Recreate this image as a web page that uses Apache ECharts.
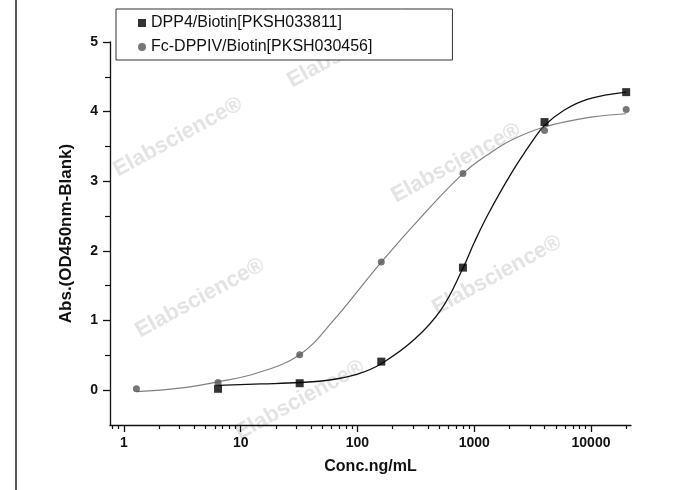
<!DOCTYPE html>
<html>
<head>
<meta charset="utf-8">
<script src="https://cdn.jsdelivr.net/npm/echarts@6/dist/echarts.min.js"></script>
<style>
html,body{margin:0;padding:0;background:#fff;}
#chart{width:688px;height:490px;}
</style>
</head>
<body>
<div id="chart"></div>
<script>
// ---- data ----
const seriesNames = ['DPP4/Biotin[PKSH033811]', 'Fc-DPPIV/Biotin[PKSH030456]'];
// measured points
const dpp4Conc = [6.4, 32, 160, 800, 4000, 20000];
const dpp4Abs  = [0.02, 0.10, 0.41, 1.76, 3.85, 4.28];
const fcConc   = [1.28, 6.4, 32, 160, 800, 4000, 20000];
const fcAbs    = [0.02, 0.11, 0.51, 1.84, 3.11, 3.73, 4.03];
// fitted curves
const dpp4CurveConc = [6.4, 15, 32, 60, 100, 160, 308, 522, 800, 1000, 1318, 2070, 3190, 4000, 5870, 9420, 20000];
const dpp4CurveAbs  = [0.07, 0.09, 0.11, 0.15, 0.23, 0.38, 0.73, 1.16, 1.75, 2.12, 2.53, 3.11, 3.59, 3.80, 4.02, 4.18, 4.28];
const fcCurveConc = [1.28, 3, 6.4, 14, 32, 60, 160, 352, 800, 1300, 2070, 4000, 10000, 20000];
const fcCurveAbs  = [-0.02, 0.03, 0.12, 0.25, 0.51, 0.97, 1.84, 2.49, 3.11, 3.38, 3.59, 3.78, 3.92, 3.97];
// axes
const xLabelValues = [1, 10, 100, 1000, 10000];
const xMinorTickValues = [0.8, 0.9, 2, 3, 4, 5, 6, 7, 8, 9, 20, 30, 40, 50, 60, 70, 80, 90,
  200, 300, 400, 500, 600, 700, 800, 900, 2000, 3000, 4000, 5000, 6000, 7000, 8000, 9000, 20000];
const yLabelValues = [0, 1, 2, 3, 4, 5];
const yHalfTickValues = [0.5, 1.5, 2.5, 3.5, 4.5];
const watermarkText = 'Elabscience';

const chart = echarts.init(document.getElementById('chart'), null, {renderer: 'canvas'});
const FONT = 'Liberation Sans, Arial, sans-serif';
const pair = (xs, ys) => xs.map((x, i) => [x, ys[i]]);

const wmPos = [[178, 137], [352, 48], [456, 163], [200, 298], [497, 275], [300, 400]];
const graphics = wmPos.map(p => ({
  type: 'text', x: p[0], y: p[1], rotation: 0.5, silent: true, z: 0,
  style: {text: watermarkText + '\u00AE', fill: '#e3e3e3', font: 'bold 22px ' + FONT,
    textAlign: 'center', textVerticalAlign: 'middle'}
}));
graphics.push({type: 'line', shape: {x1: 16, y1: 0, x2: 16, y2: 490},
  style: {stroke: '#222', lineWidth: 1.5}, silent: true});

const axisCommonX = {
  type: 'log', logBase: 10, min: 0.76, max: 22000, gridIndex: 0,
  splitLine: {show: false}, minorTick: {show: false}
};
const axisCommonY = {
  type: 'value', min: -0.5, max: 5, gridIndex: 0,
  splitLine: {show: false}, minorTick: {show: false}
};

chart.setOption({
  animation: false,
  backgroundColor: '#fff',
  graphic: graphics,
  grid: {left: 110, right: 57, top: 42, bottom: 65, containLabel: false},
  legend: {
    orient: 'vertical', left: 116, top: 9,
    padding: [6, 80, 5, 22], itemGap: 8,
    itemWidth: 8, itemHeight: 8,
    borderColor: '#333', borderWidth: 1, backgroundColor: '#fff',
    textStyle: {fontFamily: FONT, fontSize: 16, color: '#111'},
    data: [
      {name: seriesNames[0], icon: 'rect'},
      {name: seriesNames[1], icon: 'circle'}
    ]
  },
  xAxis: [
    Object.assign({}, axisCommonX, {
      position: 'bottom',
      name: 'Conc.ng/mL', nameLocation: 'middle', nameGap: 34,
      nameTextStyle: {fontFamily: FONT, fontSize: 16, fontWeight: 'bold', color: '#111'},
      axisLine: {show: true, onZero: false, lineStyle: {color: '#111', width: 1.3}},
      axisTick: {show: true, customValues: xLabelValues, length: 7, lineStyle: {color: '#111', width: 1.3}},
      axisLabel: {customValues: xLabelValues, margin: 11, fontFamily: FONT, fontSize: 14,
        fontWeight: 'bold', color: '#111', formatter: v => String(v)}
    }),
    Object.assign({}, axisCommonX, {
      position: 'bottom',
      axisLine: {show: false, onZero: false},
      axisTick: {show: true, customValues: xMinorTickValues, length: 4, lineStyle: {color: '#111', width: 1.2}},
      axisLabel: {show: false}
    })
  ],
  yAxis: [
    Object.assign({}, axisCommonY, {
      position: 'left',
      name: 'Abs.(OD450nm-Blank)', nameLocation: 'middle', nameGap: 35, nameRotate: 90,
      nameTextStyle: {fontFamily: FONT, fontSize: 17, fontWeight: 'bold', color: '#111'},
      axisLine: {show: true, onZero: false, lineStyle: {color: '#111', width: 1.3}},
      axisTick: {show: true, customValues: yLabelValues, length: 7, lineStyle: {color: '#111', width: 1.3}},
      axisLabel: {customValues: yLabelValues, margin: 12, fontFamily: FONT, fontSize: 14,
        fontWeight: 'bold', color: '#111'}
    }),
    Object.assign({}, axisCommonY, {
      position: 'left',
      axisLine: {show: false, onZero: false},
      axisTick: {show: true, customValues: yHalfTickValues, length: 5, lineStyle: {color: '#111', width: 1.2}},
      axisLabel: {show: false}
    })
  ],
  series: [
    {
      name: seriesNames[0], type: 'scatter', xAxisIndex: 0, yAxisIndex: 0,
      data: pair(dpp4Conc, dpp4Abs),
      symbol: 'rect', symbolSize: 8,
      itemStyle: {color: '#000'}, z: 6
    },
    {
      name: seriesNames[1], type: 'scatter', xAxisIndex: 0, yAxisIndex: 0,
      data: pair(fcConc, fcAbs),
      symbol: 'circle', symbolSize: 7,
      itemStyle: {color: '#555'}, z: 5
    },
    {
      name: seriesNames[0] + ' fit', type: 'line', xAxisIndex: 0, yAxisIndex: 0,
      data: pair(dpp4CurveConc, dpp4CurveAbs),
      smooth: 0.4, symbol: 'none',
      lineStyle: {color: '#111', width: 1.3}, z: 4
    },
    {
      name: seriesNames[1] + ' fit', type: 'line', xAxisIndex: 0, yAxisIndex: 0,
      data: pair(fcCurveConc, fcCurveAbs),
      smooth: 0.4, symbol: 'none',
      lineStyle: {color: '#808080', width: 1.2}, z: 3
    }
  ]
});
</script>
</body>
</html>
